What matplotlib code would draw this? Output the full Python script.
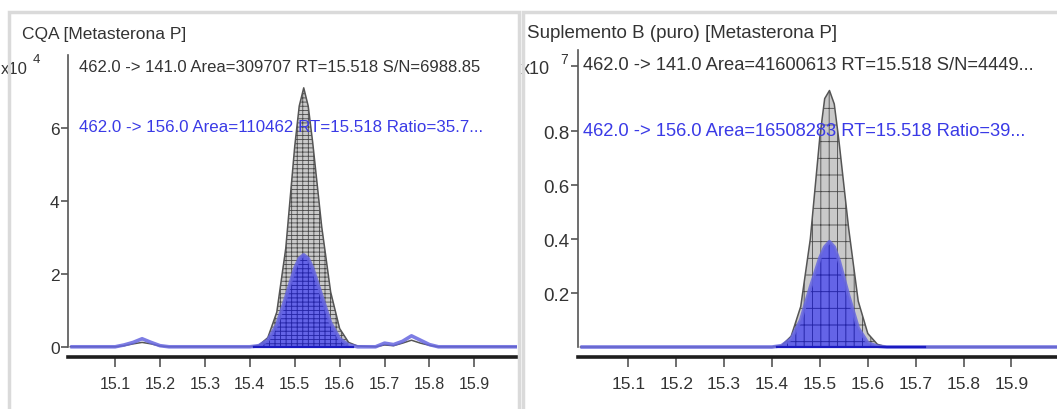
import matplotlib
matplotlib.use('Agg')
import matplotlib.pyplot as plt
import numpy as np
from matplotlib.patches import Rectangle

FONT = ['Liberation Sans', 'DejaVu Sans']
plt.rcParams['font.family'] = FONT
plt.rcParams['hatch.linewidth'] = 0.6

# ---------------- data ----------------
# left panel: CQA, intensities in units of 1e4
left_rt_141 = [15.00, 15.10, 15.12, 15.14, 15.16, 15.18, 15.20, 15.22, 15.40, 15.42, 15.44,
               15.46, 15.48, 15.50, 15.51, 15.52, 15.53, 15.54, 15.56, 15.58, 15.60, 15.62,
               15.64, 15.68, 15.70, 15.72, 15.74, 15.76, 15.78, 15.80, 15.82, 16.00]
left_int_141 = [0.00, 0.00, 0.03, 0.08, 0.12, 0.08, 0.02, 0.00, 0.00, 0.04, 0.25,
                0.95, 2.70, 5.50, 6.60, 7.10, 6.60, 5.60, 3.30, 1.50, 0.50, 0.12,
                0.02, 0.00, 0.05, 0.03, 0.10, 0.18, 0.10, 0.04, 0.00, 0.00]
left_rt_156 = [15.00, 15.10, 15.12, 15.14, 15.16, 15.18, 15.20, 15.22, 15.40, 15.42, 15.44,
               15.46, 15.48, 15.50, 15.51, 15.52, 15.53, 15.54, 15.56, 15.58, 15.60, 15.62,
               15.64, 15.68, 15.70, 15.72, 15.74, 15.76, 15.78, 15.80, 15.82, 16.00]
left_int_156 = [0.00, 0.00, 0.05, 0.12, 0.22, 0.12, 0.03, 0.00, 0.00, 0.03, 0.18,
                0.60, 1.35, 2.15, 2.42, 2.52, 2.42, 2.15, 1.40, 0.65, 0.22, 0.05,
                0.00, 0.00, 0.10, 0.06, 0.15, 0.30, 0.18, 0.06, 0.00, 0.00]
left_int_range = (15.41, 15.63)

# right panel: Suplemento B (puro), intensities in units of 1e7
right_rt_141 = [15.00, 15.40, 15.42, 15.44, 15.46, 15.48, 15.50, 15.51, 15.52, 15.53,
                15.54, 15.56, 15.58, 15.60, 15.62, 15.64, 16.00]
right_int_141 = [0.000, 0.000, 0.005, 0.040, 0.150, 0.400, 0.780, 0.920, 0.950, 0.900,
                 0.760, 0.440, 0.170, 0.050, 0.010, 0.000, 0.000]
right_rt_156 = [15.00, 15.40, 15.42, 15.44, 15.46, 15.48, 15.50, 15.51, 15.52, 15.53,
                15.54, 15.56, 15.58, 15.60, 15.62, 15.64, 16.00]
right_int_156 = [0.000, 0.000, 0.005, 0.030, 0.100, 0.220, 0.330, 0.370, 0.390, 0.370,
                 0.320, 0.190, 0.070, 0.015, 0.003, 0.000, 0.000]
right_int_range = (15.41, 15.72)

x_ticks = [15.1, 15.2, 15.3, 15.4, 15.5, 15.6, 15.7, 15.8, 15.9]
x_ticklabels = ['15.1', '15.2', '15.3', '15.4', '15.5', '15.6', '15.7', '15.8', '15.9']
left_yticks = [0, 2, 4, 6]
left_yticklabels = ['0', '2', '4', '6']
right_yticks = [0.2, 0.4, 0.6, 0.8, 1.04]
right_yticklabels = ['0.2', '0.4', '0.6', '0.8', '']

left_title = 'CQA [Metasterona P]'
left_line1 = '462.0 -> 141.0 Area=309707 RT=15.518 S/N=6988.85'
left_line2 = '462.0 -> 156.0 Area=110462 RT=15.518 Ratio=35.7...'
left_exp = '4'
right_title = 'Suplemento B (puro) [Metasterona P]'
right_line1 = '462.0 -> 141.0 Area=41600613 RT=15.518 S/N=4449...'
right_line2 = '462.0 -> 156.0 Area=16508283 RT=15.518 Ratio=39...'
right_exp = '7'

# ---------------- styling ----------------
W, H = 1057, 410
GRAY_TXT = '#333333'
BLUE_TXT = '#3a3ae6'
AX_GRAY = '#555555'

fig = plt.figure(figsize=(W / 100, H / 100), dpi=100)


def fx(px):
    return px / W


def fy(py):
    return 1 - py / H


# panel frames
fig.patches.append(Rectangle((fx(9), -0.05), fx(519) - fx(9), fy(13) + 0.05,
                             transform=fig.transFigure, fill=False,
                             edgecolor='#dadada', lw=2.5, zorder=5))
fig.patches.append(Rectangle((fx(523), -0.05), fx(1070) - fx(523), fy(13) + 0.05,
                             transform=fig.transFigure, fill=False,
                             edgecolor='#dadada', lw=2.5, zorder=5))


def draw_panel(ax, rt_q, i_q, rt_r, i_r, int_range, hatch_q, hatch_r, ymax, fs):
    rt_q = np.asarray(rt_q); i_q = np.asarray(i_q)
    rt_r = np.asarray(rt_r); i_r = np.asarray(i_r)
    a, b = int_range
    mq = (rt_q >= a) & (rt_q <= b)
    mr = (rt_r >= a) & (rt_r <= b)
    # quantifier peak fill (gray, grid hatch)
    ax.fill(np.r_[rt_q[mq], rt_q[mq][-1], rt_q[mq][0]],
            np.r_[i_q[mq], 0, 0],
            facecolor='#c9c9c9', edgecolor='#4a4a4a', hatch=hatch_q, lw=0, zorder=2)
    ax.plot(rt_q, i_q, color='#555555', lw=1.1, zorder=3)
    # qualifier peak fill (blue, grid hatch)
    ax.fill(np.r_[rt_r[mr], rt_r[mr][-1], rt_r[mr][0]],
            np.r_[i_r[mr], 0, 0],
            facecolor=(0.32, 0.32, 0.93, 0.85), edgecolor='#2626a8', hatch=hatch_r,
            lw=0, zorder=4)
    ax.plot(rt_r, i_r, color=(0.40, 0.40, 0.88, 0.85), lw=2.6, zorder=5,
            solid_capstyle='butt')
    # integration baseline
    ax.plot([a, b], [0, 0], color='#1a1ac0', lw=1.6, zorder=6)

    ax.set_xlim(14.995, 15.995)
    for s in ('top', 'right'):
        ax.spines[s].set_visible(False)
    ax.spines['left'].set_color(AX_GRAY)
    ax.spines['left'].set_linewidth(1.2)
    ax.spines['left'].set_bounds(0, ymax)
    ax.spines['bottom'].set_color('#1e1e1e')
    ax.spines['bottom'].set_linewidth(2.6)
    ax.set_xticks(x_ticks)
    ax.set_xticklabels(x_ticklabels)
    ax.tick_params(axis='x', direction='out', length=7, width=1.2, color=AX_GRAY,
                   labelsize=fs, labelcolor=GRAY_TXT, pad=7)
    ax.tick_params(axis='y', direction='out', length=5, width=1.2, color=AX_GRAY,
                   labelsize=fs + 1, labelcolor=GRAY_TXT, pad=1)
    ax.patch.set_alpha(0)


# left axes
ax1 = fig.add_axes([fx(68), fy(358), fx(517) - fx(68), fy(56) - fy(358)])
ax1.set_ylim(-0.28, 8.0)
draw_panel(ax1, left_rt_141, left_int_141, left_rt_156, left_int_156, left_int_range,
           '+++-', '+++-', 8.0, 11.5)
ax1.set_yticks(left_yticks)
ax1.set_yticklabels(left_yticklabels)

# right axes
ax2 = fig.add_axes([fx(578), fy(358), 1 - fx(578), fy(51) - fy(358)])
ax2.set_ylim(-0.037, 1.10)
draw_panel(ax2, right_rt_141, right_int_141, right_rt_156, right_int_156, right_int_range,
           '||-', '||-', 1.10, 12.5)
ax2.set_yticks(right_yticks)
ax2.set_yticklabels(right_yticklabels)

# texts
fig.text(fx(22), fy(34), left_title, color=GRAY_TXT, fontsize=12.5, va='center', ha='left')
fig.text(fx(79), fy(68), left_line1, color=GRAY_TXT, fontsize=12.0, va='center', ha='left')
fig.text(fx(79), fy(128), left_line2, color=BLUE_TXT, fontsize=12.2, va='center', ha='left')
fig.text(fx(1), fy(70), 'x10', color=GRAY_TXT, fontsize=12, va='center', ha='left')
fig.text(fx(33), fy(60), left_exp, color=GRAY_TXT, fontsize=9.5, va='center', ha='left')

fig.text(fx(527), fy(34), right_title, color=GRAY_TXT, fontsize=13.5, va='center', ha='left')
fig.text(fx(583), fy(66), right_line1, color=GRAY_TXT, fontsize=13.2, va='center', ha='left')
fig.text(fx(583), fy(131), right_line2, color=BLUE_TXT, fontsize=13.2, va='center', ha='left')
fig.text(fx(521), fy(70), 'x10', color=GRAY_TXT, fontsize=13, va='center', ha='left')
fig.text(fx(560), fy(60), right_exp, color=GRAY_TXT, fontsize=10, va='center', ha='left')

fig.savefig('out.png', dpi=100)
